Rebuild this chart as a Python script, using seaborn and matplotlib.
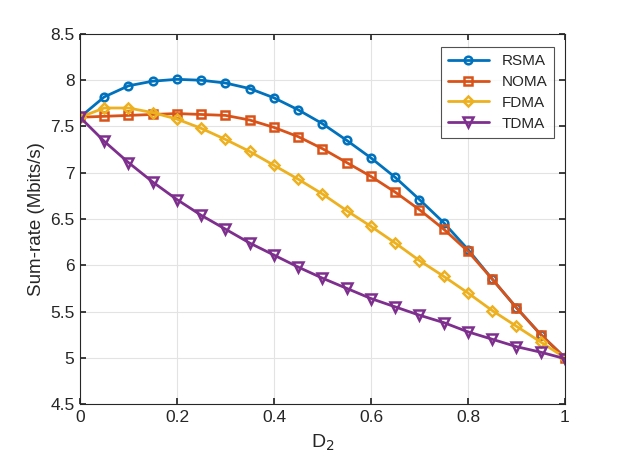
import matplotlib
matplotlib.use("Agg")
import matplotlib.pyplot as plt
import numpy as np
import pandas as pd
import seaborn as sns

# D2 values along the x axis
d2 = [0.0, 0.05, 0.1, 0.15, 0.2, 0.25, 0.3, 0.35, 0.4, 0.45, 0.5,
      0.55, 0.6, 0.65, 0.7, 0.75, 0.8, 0.85, 0.9, 0.95, 1.0]

rsma = [7.60, 7.82, 7.94, 7.99, 8.01, 8.00, 7.97, 7.91, 7.81, 7.68, 7.53,
        7.35, 7.16, 6.95, 6.71, 6.46, 6.17, 5.85, 5.54, 5.25, 5.00]
noma = [7.60, 7.61, 7.62, 7.63, 7.64, 7.63, 7.62, 7.57, 7.49, 7.39, 7.26,
        7.11, 6.96, 6.79, 6.60, 6.39, 6.15, 5.85, 5.54, 5.25, 5.00]
fdma = [7.60, 7.70, 7.70, 7.65, 7.58, 7.48, 7.36, 7.23, 7.08, 6.93, 6.77,
        6.59, 6.42, 6.24, 6.05, 5.88, 5.70, 5.51, 5.34, 5.17, 5.00]
tdma = [7.60, 7.34, 7.11, 6.90, 6.71, 6.54, 6.39, 6.24, 6.11, 5.98, 5.86,
        5.75, 5.64, 5.55, 5.46, 5.38, 5.28, 5.20, 5.12, 5.06, 4.99]

schemes = ["RSMA", "NOMA", "FDMA", "TDMA"]
colors = ["#0072BD", "#D95319", "#EDB120", "#7E2F8E"]
markers = ["o", "s", "D", "v"]
sizes = [5.5, 5.5, 5.5, 7.5]

df = pd.DataFrame({
    "D2": d2 * 4,
    "rate": rsma + noma + fdma + tdma,
    "scheme": np.repeat(schemes, len(d2)),
})

sns.set_theme(style="whitegrid")
plt.rcParams["font.family"] = ["Liberation Sans", "DejaVu Sans"]

fig = plt.figure(figsize=(6.23, 4.67), dpi=100)
ax = fig.add_axes([0.1284, 0.1349, 0.7785, 0.7923])

for name, c, m, ms in zip(schemes, colors, markers, sizes):
    sub = df[df["scheme"] == name]
    sns.lineplot(data=sub, x="D2", y="rate", ax=ax, color=c, linewidth=2,
                 marker=m, markersize=ms, markerfacecolor="none",
                 markeredgecolor=c, markeredgewidth=1.8, label=name)

ax.set_xlim(0, 1)
ax.set_ylim(4.5, 8.5)
ax.set_xticks(np.arange(0, 1.01, 0.2))
ax.set_xticklabels(["0", "0.2", "0.4", "0.6", "0.8", "1"])
ax.set_yticks(np.arange(4.5, 8.51, 0.5))
ax.set_yticklabels(["4.5", "5", "5.5", "6", "6.5", "7", "7.5", "8", "8.5"])
ax.tick_params(direction="in", length=4, labelsize=12.5, colors="#262626",
               top=True, right=True, bottom=True, left=True, pad=4)
ax.grid(True, color="#e3e3e3", linewidth=0.8)
ax.set_facecolor("white")
for s in ax.spines.values():
    s.set_color("#262626")
    s.set_linewidth(0.8)

ax.set_xlabel("D$_2$", fontsize=14, color="#262626", labelpad=6)
ax.set_ylabel("Sum-rate (Mbits/s)", fontsize=13.5, color="#262626", labelpad=4)

leg = ax.legend(loc="upper right", fontsize=11, frameon=True, fancybox=False,
                handlelength=2.7, borderpad=0.45, labelspacing=0.45,
                bbox_to_anchor=(0.993, 0.985))
leg.get_frame().set_edgecolor("#262626")
leg.get_frame().set_linewidth(0.8)

fig.savefig("out.png", dpi=100)
